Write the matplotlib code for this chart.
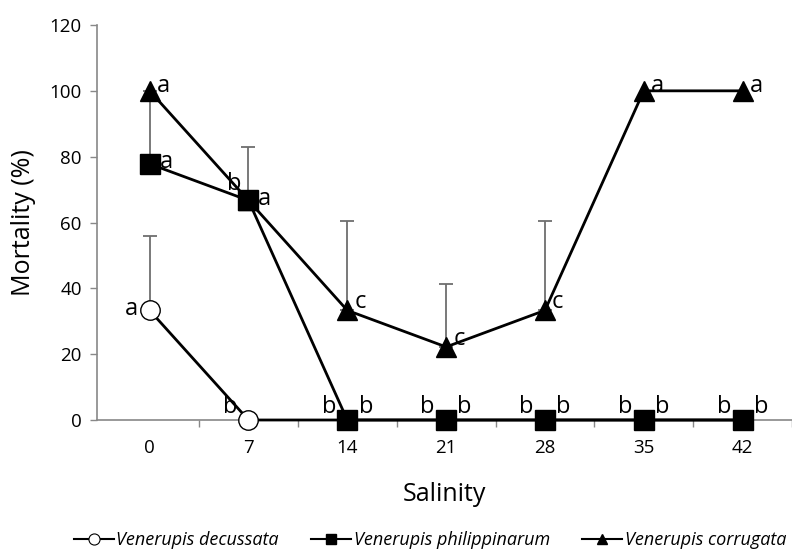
import matplotlib
matplotlib.use("Agg")
import matplotlib.pyplot as plt
from matplotlib.lines import Line2D

plt.rcParams['font.family'] = ['Open Sans', 'DejaVu Sans']

salinity = [0, 7, 14, 21, 28, 35, 42]
decussata = [33.3, 0, 0, 0, 0, 0, 0]
philippinarum = [77.8, 66.7, 0, 0, 0, 0, 0]
corrugata = [100, 66.7, 33.3, 22.2, 33.3, 100, 100]

# upper error bars (SD)
decussata_err = [22.7, 0, 0, 0, 0, 0, 0]
philippinarum_err = [22.2, 16.3, 0, 0, 0, 0, 0]
corrugata_err = [0, 0, 27.2, 19.2, 27.2, 0, 0]

dec_letters = ['a', 'b', 'b', 'b', 'b', 'b', 'b']
phi_letters = ['a', 'a', 'b', 'b', 'b', 'b', 'b']
cor_letters = ['a', 'b', 'c', 'c', 'c', 'a', 'a']

fig = plt.figure(figsize=(7.92, 5.55), dpi=100)
ax = fig.add_axes([97/792, 1-420/555, 1-97/792, 395/555])

errc = '#6e6e6e'
def draw_err(vals, errs):
    xs = [x for x, e in zip(salinity, errs) if e > 0]
    ys = [v for v, e in zip(vals, errs) if e > 0]
    es = [e for e in errs if e > 0]
    if xs:
        ax.errorbar(xs, ys, yerr=[[0]*len(es), es], fmt='none', ecolor=errc,
                    elinewidth=1.3, capsize=5, capthick=1.3, zorder=1)

draw_err(decussata, decussata_err)
draw_err(philippinarum, philippinarum_err)
draw_err(corrugata, corrugata_err)

ax.plot(salinity, decussata, color='black', lw=2, marker='o', ms=14,
        mfc='white', mec='black', mew=1, zorder=3, clip_on=False)
ax.plot(salinity, corrugata, color='black', lw=2, marker='^', ms=15,
        mfc='black', mec='black', zorder=4, clip_on=False)
ax.plot(salinity, philippinarum, color='black', lw=2, marker='s', ms=14,
        mfc='black', mec='black', zorder=5, clip_on=False)

fs = 17
for x, y, l in zip(salinity, decussata, dec_letters):
    if x == 0:
        ax.text(x - 0.8, y + 0.5, l, ha='right', va='center', fontsize=fs)
    else:
        ax.text(x - 0.8, y + 4.0, l, ha='right', va='center', fontsize=fs)
for x, y, l in zip(salinity, philippinarum, phi_letters):
    if y > 0:
        ax.text(x + 0.7, y + 0.5, l, ha='left', va='center', fontsize=fs)
    else:
        ax.text(x + 0.8, y + 4.0, l, ha='left', va='center', fontsize=fs)
for x, y, l in zip(salinity, corrugata, cor_letters):
    if x == 7:
        ax.text(x - 1.0, y + 5, l, ha='center', va='center', fontsize=fs)
    elif y >= 100:
        ax.text(x + 0.5, y + 1.5, l, ha='left', va='center', fontsize=fs)
    else:
        ax.text(x + 0.5, y + 2.5, l, ha='left', va='center', fontsize=fs)

ax.set_xlim(-3.73, 45.17)
ax.set_ylim(0, 120)
ax.set_yticks(range(0, 121, 20))
ax.set_xticks(salinity)
ax.set_xticks([3.5 + 7*k for k in range(7)], minor=True)
ax.tick_params(axis='x', which='major', length=0, labelsize=13.5, pad=14)
ax.tick_params(axis='x', which='minor', length=5, color='#888888', width=1)
ax.tick_params(axis='y', length=5, color='#888888', width=1, labelsize=13.5, pad=6)

for s in ['top', 'right']:
    ax.spines[s].set_visible(False)
for s in ['left', 'bottom']:
    ax.spines[s].set_color('#888888')
    ax.spines[s].set_linewidth(1.2)

ax.set_xlabel('Salinity', fontsize=18, labelpad=18)
ax.set_ylabel('Mortality (%)', fontsize=18, labelpad=10)

handles = [
    Line2D([], [], color='black', lw=1.5, marker='o', ms=8, mfc='white', mec='black', mew=0.8),
    Line2D([], [], color='black', lw=1.5, marker='s', ms=7, mfc='black'),
    Line2D([], [], color='black', lw=1.5, marker='^', ms=7, mfc='black'),
]
labels = ['Venerupis decussata', 'Venerupis philippinarum', 'Venerupis corrugata']
fig.legend(handles, labels, loc='center', bbox_to_anchor=(0.543, 0.027), ncol=3,
           frameon=False, handlelength=2.2, handletextpad=0.15, columnspacing=1.8,
           borderpad=0, prop={'style': 'italic', 'size': 13, 'family': ['Open Sans']})

fig.savefig('out.png', dpi=100)
